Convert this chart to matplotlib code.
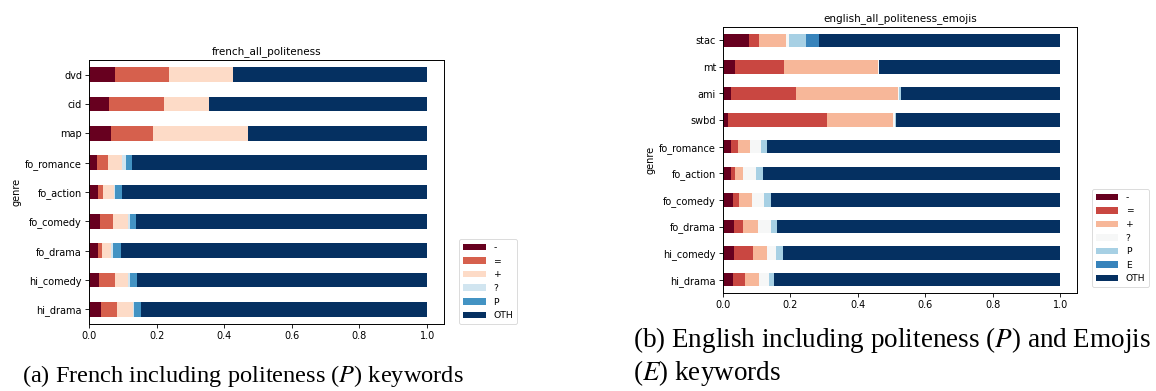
import numpy as np
import matplotlib
matplotlib.use("Agg")
import matplotlib.pyplot as plt

# ---------------- data ----------------
fr_genres = ["hi_drama", "hi_comedy", "fo_drama", "fo_comedy", "fo_action",
             "fo_romance", "map", "cid", "dvd"]
fr_labels = ["-", "=", "+", "?", "P", "OTH"]
fr_minus = [0.036, 0.031, 0.026, 0.034, 0.027, 0.025, 0.065, 0.059, 0.076]
fr_equal = [0.047, 0.047, 0.012, 0.036, 0.013, 0.032, 0.125, 0.164, 0.162]
fr_plus  = [0.048, 0.036, 0.028, 0.045, 0.035, 0.042, 0.281, 0.132, 0.187]
fr_quest = [0.003, 0.008, 0.006, 0.005, 0.003, 0.009, 0.000, 0.000, 0.000]
fr_pol   = [0.020, 0.019, 0.022, 0.020, 0.019, 0.020, 0.000, 0.000, 0.000]
fr_oth   = [0.846, 0.859, 0.906, 0.860, 0.903, 0.872, 0.529, 0.645, 0.575]

en_genres = ["hi_drama", "hi_comedy", "fo_drama", "fo_comedy", "fo_action",
             "fo_romance", "swbd", "ami", "mt", "stac"]
en_labels = ["-", "=", "+", "?", "P", "E", "OTH"]
en_minus = [0.029, 0.034, 0.034, 0.031, 0.023, 0.025, 0.016, 0.025, 0.037, 0.078]
en_equal = [0.037, 0.056, 0.025, 0.015, 0.014, 0.020, 0.292, 0.191, 0.144, 0.030]
en_plus  = [0.041, 0.041, 0.046, 0.040, 0.023, 0.035, 0.196, 0.302, 0.278, 0.078]
en_quest = [0.029, 0.027, 0.038, 0.036, 0.039, 0.033, 0.007, 0.004, 0.003, 0.010]
en_pol   = [0.015, 0.021, 0.018, 0.020, 0.019, 0.018, 0.003, 0.005, 0.002, 0.051]
en_emo   = [0.000, 0.000, 0.000, 0.000, 0.000, 0.000, 0.000, 0.000, 0.000, 0.038]
en_oth   = [0.849, 0.821, 0.839, 0.858, 0.882, 0.869, 0.486, 0.473, 0.536, 0.715]

plt.rcParams["font.family"] = ["DejaVu Sans"]
plt.rcParams["mathtext.fontset"] = "stix"

fig = plt.figure(figsize=(11.56, 3.91), dpi=100)


def stacked(ax, genres, labels, series, title, leg_y, leg_fs):
    colors = plt.cm.RdBu(np.linspace(0, 1, len(series)))
    y = np.arange(len(genres))
    left = np.zeros(len(genres))
    for lab, vals, c in zip(labels, series, colors):
        vals = np.asarray(vals)
        ax.barh(y, vals, left=left, height=0.5, color=c, label=lab,
                edgecolor="none")
        left = left + vals
    ax.set_yticks(y)
    ax.set_yticklabels(genres)
    ax.set_ylim(-0.5, len(genres) - 0.5)
    ax.set_xlim(0, 1.05)
    ax.set_xticks([0, 0.2, 0.4, 0.6, 0.8, 1.0])
    ax.set_xticklabels(["0.0", "0.2", "0.4", "0.6", "0.8", "1.0"])
    ax.tick_params(labelsize=7, length=3, width=0.6, pad=2)
    ax.set_ylabel("genre", fontsize=7, labelpad=3)
    ax.set_title(title, fontsize=7.5, pad=4)
    for s in ax.spines.values():
        s.set_linewidth(0.7)
    leg = ax.legend(loc="lower left", bbox_to_anchor=(1.042, leg_y),
                    borderaxespad=0, fontsize=leg_fs, frameon=True,
                    handlelength=2.5, labelspacing=0.5)
    leg.get_frame().set_linewidth(0.6)


ax1 = fig.add_axes([89 / 1156, 1 - 324 / 391, 355 / 1156, 264 / 391])
stacked(ax1, fr_genres, fr_labels,
        [fr_minus, fr_equal, fr_plus, fr_quest, fr_pol, fr_oth],
        "french_all_politeness", 0.0, 6.7)

ax2 = fig.add_axes([723 / 1156, 1 - 293 / 391, 354 / 1156, 266 / 391])
stacked(ax2, en_genres, en_labels,
        [en_minus, en_equal, en_plus, en_quest, en_pol, en_emo, en_oth],
        "english_all_politeness_emojis", 0.022, 6.6)

cap_kw = dict(family="Liberation Serif", va="baseline", ha="left")
fig.text(22 / 1156, 1 - 382 / 391,
         "(a) French including politeness ($P$) keywords", fontsize=17.6,
         **cap_kw)
fig.text(633 / 1156, 1 - 347 / 391,
         "(b) English including politeness ($P$) and Emojis", fontsize=19.5,
         **cap_kw)
fig.text(633 / 1156, 1 - 380 / 391, "($E$) keywords", fontsize=19.5,
         **cap_kw)

fig.savefig("out.png", dpi=100)
